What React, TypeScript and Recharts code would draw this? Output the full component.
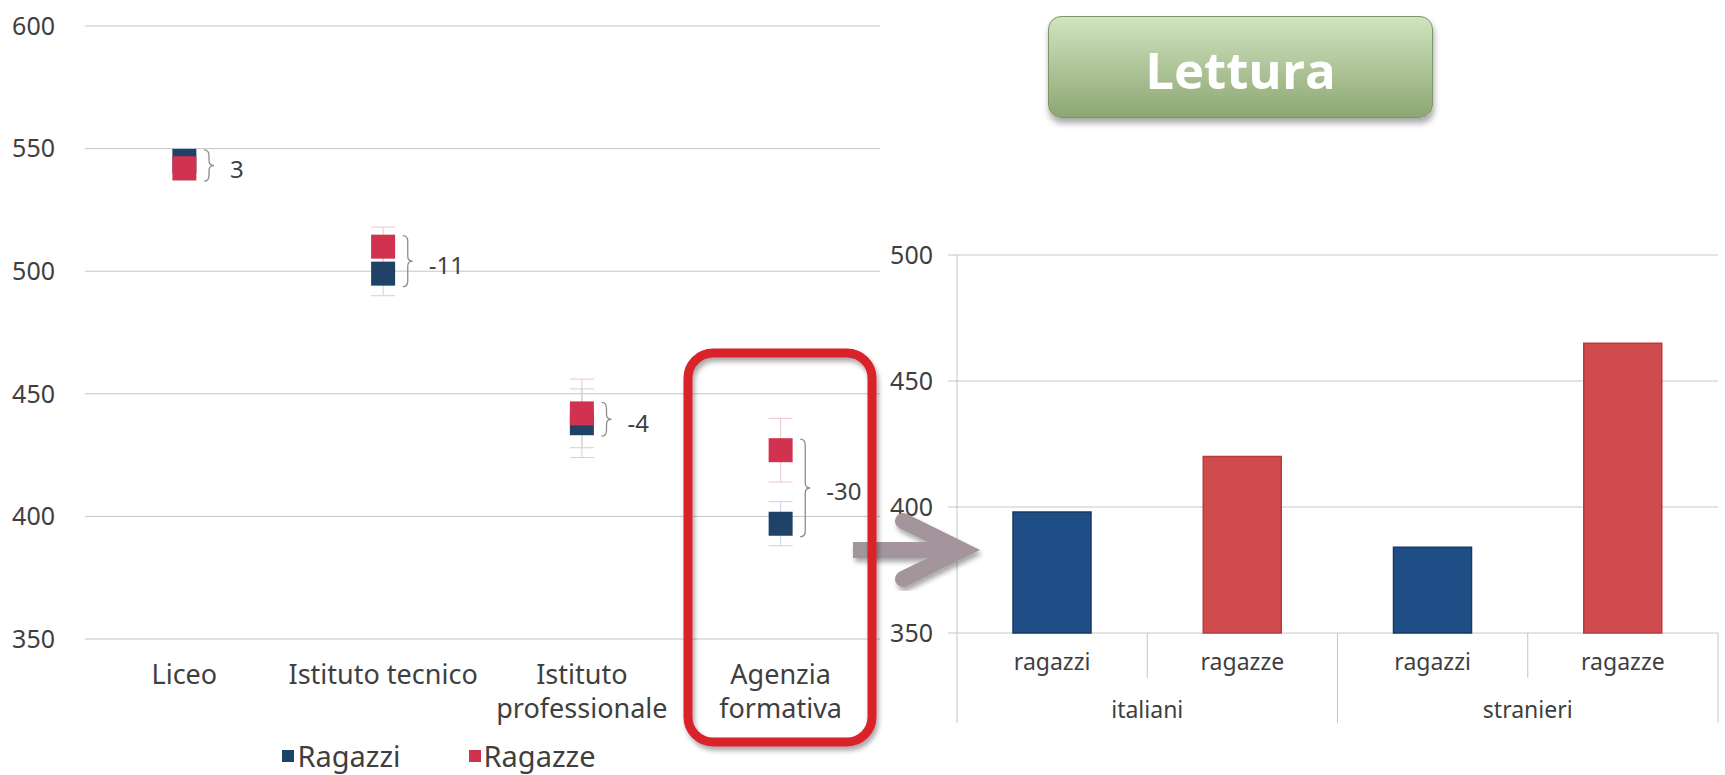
import {
  ComposedChart, BarChart, Bar, Scatter, XAxis, YAxis, CartesianGrid,
  Legend, ErrorBar, Cell,
} from "recharts";

// --- grafico di sinistra: punteggi per tipo di scuola ---
const categorie = ["Liceo", "Istituto tecnico", "Istituto\nprofessionale", "Agenzia\nformativa"];
const serie = ["Ragazzi", "Ragazze"];
const punteggiRagazzi = [545, 499, 438, 397];
const punteggiRagazze = [542, 510, 442, 427];
const erroreRagazzi = [5, 9, 14, 9];
const erroreRagazze = [5, 8, 14, 13];
const differenze = ["3", "-11", "-4", "-30"];
const tickSinistra = [350, 400, 450, 500, 550, 600];

// --- grafico di destra: lettura, italiani / stranieri ---
const gruppi = ["italiani", "stranieri"];
const generi = ["ragazzi", "ragazze"];
const punteggiLettura = [398, 420, 384, 465];
const tickDestra = [350, 400, 450, 500];

const FONT = "'Noto Sans', 'DejaVu Sans', sans-serif";
const TESTO = "#3f3f3f";
const BLU = "#1f4266";
const ROSSO = "#d1324f";

const datiScuole = categorie.map((c, i) => ({
  categoria: c,
  ragazzi: punteggiRagazzi[i],
  ragazze: punteggiRagazze[i],
  errRagazzi: erroreRagazzi[i],
  errRagazze: erroreRagazze[i],
  intervallo: [
    Math.min(punteggiRagazzi[i], punteggiRagazze[i]),
    Math.max(punteggiRagazzi[i], punteggiRagazze[i]),
  ],
  differenza: differenze[i],
}));

const datiLettura = gruppi.flatMap((g, gi) =>
  generi.map((s, si) => ({
    chiave: `${g}-${s}`,
    gruppo: g,
    genere: s,
    valore: punteggiLettura[gi * generi.length + si],
  }))
);

const quadrato = (colore: string) => (props: any) => {
  const { cx, cy } = props;
  if (cx == null || cy == null) return <g />;
  return <rect x={cx - 12} y={cy - 12} width={24} height={24} fill={colore} />;
};

function Graffa(props: any) {
  const { x, y, width, height, payload } = props;
  if (x == null || y == null) return <g />;
  const cx = x + width / 2;
  const x0 = cx + 20;
  const top = y - 11;
  const bottom = y + height + 13;
  const mid = (top + bottom) / 2;
  const w = 5;
  const d =
    `M${x0},${top} Q${x0 + w},${top} ${x0 + w},${top + 6} ` +
    `L${x0 + w},${mid - 5} Q${x0 + w},${mid} ${x0 + 2 * w},${mid} ` +
    `Q${x0 + w},${mid} ${x0 + w},${mid + 5} ` +
    `L${x0 + w},${bottom - 6} Q${x0 + w},${bottom} ${x0},${bottom}`;
  return (
    <g>
      <path d={d} fill="none" stroke="#8c8c8c" strokeWidth={1.3} />
      <text x={cx + 46} y={mid + 4} dy="0.35em" fontSize={24} fontFamily={FONT} fill={TESTO}>
        {payload.differenza}
      </text>
    </g>
  );
}

function TickScuola({ x, y, payload }: any) {
  const righe = String(payload.value).split("\n");
  return (
    <text x={x} y={y} textAnchor="middle" fill={TESTO} fontSize={27} fontFamily={FONT}>
      {righe.map((r, i) => (
        <tspan key={i} x={x} dy={i === 0 ? 45 : 34}>{r}</tspan>
      ))}
    </text>
  );
}

function LegendaScuole({ payload }: any) {
  const voci = (payload || [])
    .filter((p: any) => p.type !== "none" && serie.includes(p.value))
    .sort((a: any, b: any) => serie.indexOf(a.value) - serie.indexOf(b.value));
  return (
    <div
      style={{
        display: "flex", justifyContent: "center", alignItems: "center", gap: 68,
        height: 30, fontFamily: FONT, fontSize: 29, color: TESTO, lineHeight: "30px",
      }}
    >
      {voci.map((p: any) => (
        <span key={p.value} style={{ display: "flex", alignItems: "center", gap: 3 }}>
          <span style={{ width: 12, height: 12, background: p.color, display: "inline-block" }} />
          {p.value}
        </span>
      ))}
    </div>
  );
}

function TickLettura({ x, y, payload }: any) {
  const riga = datiLettura.find((d) => d.chiave === payload.value);
  const i = datiLettura.indexOf(riga as any);
  const meta = payload.offset || 95;
  const linea = "#c4c4c4";
  return (
    <g>
      <text x={x} y={y + 37} textAnchor="middle" fill={TESTO} fontSize={23} fontFamily={FONT}>
        {riga?.genere}
      </text>
      {i === 0 && <line x1={x - meta} x2={x - meta} y1={y} y2={y + 90} stroke={linea} />}
      {i % 2 === 0 ? (
        <>
          <line x1={x + meta} x2={x + meta} y1={y} y2={y + 45} stroke={linea} />
          <text x={x + meta} y={y + 85} textAnchor="middle" fill={TESTO} fontSize={23} fontFamily={FONT}>
            {riga?.gruppo}
          </text>
        </>
      ) : (
        <line x1={x + meta} x2={x + meta} y1={y} y2={y + 90} stroke={linea} />
      )}
    </g>
  );
}

export default function App() {
  return (
    <div style={{ position: "absolute", left: 0, top: 0, width: 1725, height: 775, background: "#fff", overflow: "hidden" }}>
      {/* grafico a sinistra */}
      <div style={{ position: "absolute", left: 0, top: 0 }}>
        <ComposedChart width={900} height={775} data={datiScuole} margin={{ top: 26, right: 20, left: 15, bottom: 16 }}>
          <CartesianGrid horizontal vertical={false} stroke="#c4c4c4" />
          <XAxis
            dataKey="categoria"
            height={90}
            tickLine={false}
            axisLine={false}
            tickSize={0}
            tickMargin={0}
            tick={<TickScuola />}
            interval={0}
          />
          <YAxis
            domain={[350, 600]}
            ticks={tickSinistra}
            width={70}
            tickLine={false}
            axisLine={false}
            tickSize={0}
            tickMargin={30}
            tick={{ fontSize: 25, fill: TESTO, fontFamily: FONT }}
          />
          <Bar dataKey="intervallo" barSize={10} legendType="none" shape={<Graffa />} isAnimationActive={false} />
          <Scatter name={serie[0]} dataKey="ragazzi" fill={BLU} shape={quadrato(BLU)} legendType="square" isAnimationActive={false}>
            <ErrorBar dataKey="errRagazzi" direction="y" width={12} stroke="#c5d3e6" strokeWidth={1} />
          </Scatter>
          <Scatter name={serie[1]} dataKey="ragazze" fill={ROSSO} shape={quadrato(ROSSO)} legendType="square" isAnimationActive={false}>
            <ErrorBar dataKey="errRagazze" direction="y" width={12} stroke="#efc3c8" strokeWidth={1} />
          </Scatter>
          <Legend
            verticalAlign="bottom"
            content={<LegendaScuole />}
            wrapperStyle={{ left: 0, width: 878, top: 741, bottom: "auto" }}
          />
        </ComposedChart>
      </div>

      {/* grafico a destra */}
      <div style={{ position: "absolute", left: 870, top: 230 }}>
        <BarChart width={855} height={545} data={datiLettura} margin={{ top: 25, right: 7, left: 0, bottom: 0 }}>
          <CartesianGrid horizontal vertical={false} stroke="#c8c8c8" />
          <XAxis
            dataKey="chiave"
            height={142}
            tickLine={false}
            axisLine={false}
            tickSize={0}
            tickMargin={0}
            interval={0}
            tick={<TickLettura />}
          />
          <YAxis
            domain={[350, 500]}
            ticks={tickDestra}
            width={87}
            tickSize={9}
            tickMargin={15}
            axisLine={{ stroke: "#c4c4c4" }}
            tickLine={{ stroke: "#c4c4c4" }}
            tick={{ fontSize: 25, fill: TESTO, fontFamily: FONT }}
          />
          <Bar dataKey="valore" barSize={78} isAnimationActive={false}>
            {datiLettura.map((d) => (
              <Cell
                key={d.chiave}
                fill={d.genere === "ragazzi" ? "#1f4e87" : "#cf4b4d"}
                stroke={d.genere === "ragazzi" ? "#183a66" : "#b63c40"}
                strokeWidth={1.5}
              />
            ))}
          </Bar>
        </BarChart>
      </div>

      {/* titolo */}
      <div
        style={{
          position: "absolute", left: 1048, top: 16, width: 383, height: 100,
          borderRadius: 13, border: "1.5px solid #7d9566",
          background: "linear-gradient(#d0e4bf, #8ea673)",
          boxShadow: "1px 5px 6px rgba(0,0,0,0.35)",
          display: "flex", alignItems: "center", justifyContent: "center",
          color: "#fff", fontFamily: "'Open Sans', sans-serif", fontWeight: 700, fontSize: 51,
        }}
      >
        <span style={{ marginTop: 4 }}>Lettura</span>
      </div>

      {/* freccia e riquadro */}
      <svg width={1725} height={775} style={{ position: "absolute", left: 0, top: 0, pointerEvents: "none" }}>
        <defs>
          <filter id="ombra" x="-20%" y="-20%" width="140%" height="140%">
            <feDropShadow dx="2" dy="4" stdDeviation="2.5" floodColor="#000" floodOpacity="0.35" />
          </filter>
        </defs>
        <g filter="url(#ombra)" stroke="#a3959b" strokeWidth={16} fill="none">
          <line x1={853} y1={550} x2={958} y2={550} strokeLinecap="butt" />
          <polyline points="903,521 962,550 903,579" strokeLinecap="round" strokeLinejoin="miter" />
        </g>
        <rect x={688} y={353} width={184} height={389} rx={25} fill="none" stroke="#da2229" strokeWidth={9} filter="url(#ombra)" />
      </svg>
    </div>
  );
}
